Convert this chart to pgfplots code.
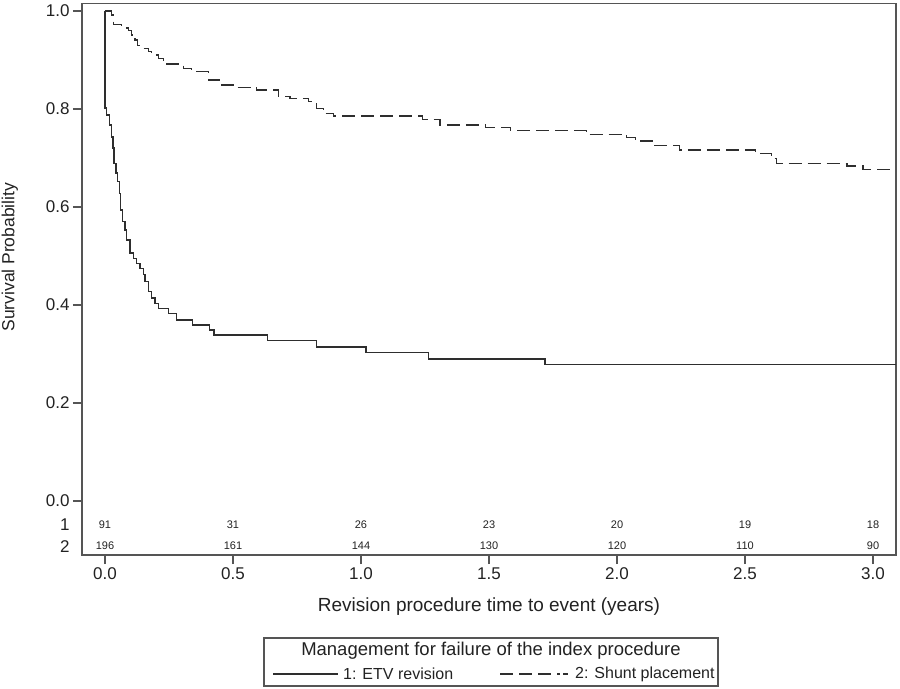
\documentclass[border=0pt]{standalone}
\usepackage{pgfplots}
\pgfplotsset{compat=1.18}
\usepackage{fontspec}
\setmainfont{Liberation Sans}
\definecolor{frame}{HTML}{555555}
\definecolor{curve}{HTML}{2E2E2E}
\definecolor{txt}{HTML}{222222}

\pgfplotstableread{
x y
0 1.0
0 0.802
0.007 0.788
0.017 0.767
0.026 0.743
0.031 0.720
0.035 0.689
0.043 0.669
0.048 0.652
0.056 0.628
0.061 0.594
0.069 0.570
0.078 0.553
0.085 0.533
0.098 0.506
0.111 0.495
0.124 0.485
0.137 0.475
0.150 0.462
0.156 0.448
0.169 0.428
0.182 0.414
0.195 0.403
0.208 0.393
0.247 0.383
0.280 0.369
0.342 0.359
0.408 0.349
0.426 0.339
0.634 0.327
0.827 0.314
1.020 0.303
1.263 0.290
1.719 0.278
3.09 0.278
}\etv

\pgfplotstableread{
x y
0 1.0
0.026 0.992
0.033 0.973
0.065 0.965
0.091 0.960
0.104 0.951
0.117 0.941
0.126 0.929
0.150 0.924
0.169 0.917
0.182 0.910
0.208 0.903
0.228 0.892
0.306 0.883
0.339 0.876
0.404 0.859
0.449 0.849
0.514 0.844
0.592 0.839
0.677 0.825
0.723 0.822
0.794 0.815
0.827 0.801
0.853 0.791
0.892 0.786
1.240 0.779
1.308 0.767
1.487 0.762
1.583 0.756
1.880 0.748
2.038 0.742
2.072 0.735
2.148 0.725
2.245 0.716
2.541 0.709
2.603 0.699
2.623 0.689
2.899 0.684
2.961 0.676
3.09 0.676
}\shunt

\pgfplotstableread{
x y n
0 -0.049 91
0.5 -0.049 31
1.0 -0.049 26
1.5 -0.049 23
2.0 -0.049 20
2.5 -0.049 19
3.0 -0.049 18
0 -0.092 196
0.5 -0.092 161
1.0 -0.092 144
1.5 -0.092 130
2.0 -0.092 120
2.5 -0.092 110
3.0 -0.092 90
}\atrisk

\begin{document}
\begin{tikzpicture}
\begin{axis}[
  scale only axis, width=814bp, height=551.5bp,
  xmin=-0.0898, xmax=3.0898, ymin=-0.1102, ymax=1.0153,
  axis line style={frame, line width=1.3bp},
  tick style={frame, line width=1.3bp},
  tick align=outside, major tick length=9bp,
  xtick pos=left, ytick pos=left,
  xtick={0,0.5,1,1.5,2,2.5,3}, ytick={0,0.2,0.4,0.6,0.8,1},
  /pgf/number format/fixed, /pgf/number format/fixed zerofill,
  /pgf/number format/precision=1,
  /pgf/number format/assume math mode=true,
  ticklabel style={font=\fontsize{17bp}{18bp}\selectfont, text=txt},
  extra y ticks={-0.049,-0.092}, extra y tick labels={1,2},
  extra y tick style={major tick length=0pt, yticklabel style={xshift=-9bp}},
  xlabel={Revision procedure time to event (years)},
  ylabel={Survival Probability},
  xlabel style={at={(axis description cs:0.5,0)}, anchor=center, yshift=-52bp,
    font=\fontsize{19bp}{21bp}\selectfont, text=txt},
  ylabel style={at={(axis description cs:-0.0885,0.540)}, anchor=center,
    font=\fontsize{17.5bp}{20bp}\selectfont, text=txt},
]
\addplot[const plot, curve, line width=1.4bp] table[x=x,y=y] {\etv};
\addplot[const plot, curve, line width=1.4bp, dash pattern=on 13bp off 6bp] table[x=x,y=y] {\shunt};
\addplot[draw=none, mark=none, nodes near coords, point meta=explicit symbolic,
  every node near coord/.append style={anchor=center, font=\fontsize{11bp}{12bp}\selectfont, text=txt}]
  table[x=x,y=y,meta=n] {\atrisk};
\end{axis}
% legend
\draw[frame, line width=1.2bp] (182bp,-83bp) rectangle (636bp,-131bp);
\node[anchor=center, text=txt, font=\fontsize{18.5bp}{20bp}\selectfont] at (409bp,-96bp) {Management for failure of the index procedure};
\draw[curve, line width=1.4bp] (191bp,-119bp) -- (256bp,-119bp);
\node[anchor=west, inner sep=0pt, text=txt, font=\fontsize{16bp}{18bp}\selectfont] at (261bp,-119bp) {1: ETV revision};
\draw[curve, line width=1.4bp, dash pattern=on 13bp off 6bp on 13bp off 6bp on 13bp off 6bp on 3bp off 3bp] (418bp,-119bp) -- (486bp,-119bp);
\node[anchor=west, inner sep=0pt, text=txt, font=\fontsize{16bp}{18bp}\selectfont] at (493bp,-119bp) {2: Shunt placement};
\pgfresetboundingbox
\path[use as bounding box] (-82bp,-134bp) rectangle (818bp,555bp);
\end{tikzpicture}
\end{document}
